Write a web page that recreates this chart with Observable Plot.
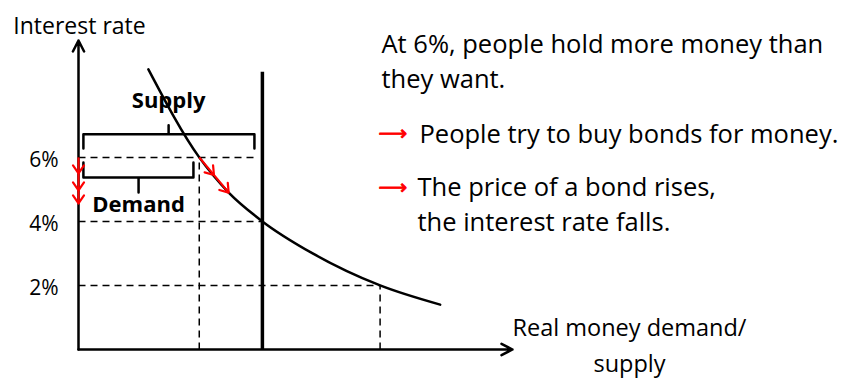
<!DOCTYPE html>
<html><head><meta charset="utf-8">
<script src="https://cdn.jsdelivr.net/npm/d3@7"></script>
<script src="https://cdn.jsdelivr.net/npm/@observablehq/plot@0.6"></script>
<style>body{margin:0;background:#fff}#chart{width:841px;height:379px}</style>
</head><body><div id="chart"></div>
<script>
// ---- data (x: real money units, y: interest rate %) ----
const rateTicks = [2, 4, 6];
const tickLabels = ["2%", "4%", "6%"];
const demandMoney = [1.14, 1.97, 2.45, 3.0, 3.82, 4.92, 5.9];
const demandRate  = [8.75, 6.0, 4.9, 4.0, 3.0, 2.0, 1.4];
const supplyMoney = 3.0;
const supplyTopRate = 8.66;
const guideRates = [6, 4, 2];
const guideEnds  = [2.87, 3.0, 4.92];
const dropMoney  = [1.97, 4.92];       // vertical guides
const dropRates  = [6, 2];
const axisRate = [6.0, 5.5, 4.97, 4.56]; // red arrow down the axis
const slideMoney = [1.97, 2.21, 2.45];   // red arrow along demand
const slideRate  = [6.0, 5.45, 4.9];
const braceNames = ["Supply", "Demand"];
const braceFrom = [0.08, 0.08];
const braceTo   = [2.87, 1.875];
const braceMid  = [1.47, 0.98];
const braceArm  = [6.28, 5.84];
const braceBar  = [6.72, 5.375];
const braceTip  = [7.0, 4.9];
const braceLabelY = [7.53, 4.29];
const yAxisTitle = "Interest rate";
const xAxisTitle = "Real money demand/\nsupply";
const note1 = "At 6%, people hold more money than\nthey want.";
const note2 = "People try to buy bonds for money.";
const note3 = "The price of a bond rises,\nthe interest rate falls.";
const bullet = "\u27F6";
const xEnd = 7.08, yEnd = 9.65;

// ---- layout ----
const W = 841, H = 379, ML = 78, MR = 329, MT = 40, MB = 30;
const pxX = (W - ML - MR) / xEnd, pxY = (H - MT - MB) / yEnd;
const angle = (x0, y0, x1, y1) => Math.atan2((x1 - x0) * pxX, (y1 - y0) * pxY) * 180 / Math.PI;

const demand = demandMoney.map((x, i) => ({x, y: demandRate[i]}));
const hGuides = guideRates.map((r, i) => ({r, end: guideEnds[i]}));
const vGuides = dropMoney.map((x, i) => ({x, r: dropRates[i]}));
const braces = braceNames.flatMap((id, i) => [
  [braceFrom[i], braceArm[i]], [braceFrom[i], braceBar[i]], [braceMid[i], braceBar[i]],
  [braceMid[i], braceTip[i]], [braceMid[i], braceBar[i]], [braceTo[i], braceBar[i]], [braceTo[i], braceArm[i]]
].map(([x, y]) => ({id, x, y})));
const braceLabels = braceNames.map((t, i) => ({t, x: braceMid[i], y: braceLabelY[i]}));
const ticks = rateTicks.map((r, i) => ({r, t: tickLabels[i]}));
const shafts = [
  {x1: 0, y1: axisRate[0], x2: 0, y2: axisRate[axisRate.length - 1]},
  {x1: slideMoney[0], y1: slideRate[0], x2: slideMoney[2], y2: slideRate[2]}
];
const heads = [
  ...axisRate.slice(1).map(y => ({x: 0, y, rot: 180})),
  ...slideMoney.slice(1).map((x, i) => ({x, y: slideRate[i + 1], rot: angle(slideMoney[0], slideRate[0], slideMoney[2], slideRate[2])}))
];
const chevron = {draw(ctx, l) { ctx.moveTo(-5.5, 8 - l); ctx.lineTo(0, -l); ctx.lineTo(5.5, 8 - l); }};

const RED = "#ff0000";
const fnt = "'Open Sans', Lato, sans-serif";
const txt = (s, o) => Plot.text([s], {frameAnchor: "top-left", textAnchor: "start", lineAnchor: "bottom", fontSize: 25.5, fill: "#000", ...o});
const plot = Plot.plot({
  width: W, height: H, marginLeft: ML, marginRight: MR, marginTop: MT, marginBottom: MB,
  style: {fontFamily: fnt, fontSize: "20px", color: "#000", background: "#fff"},
  x: {domain: [0, xEnd], axis: null},
  y: {domain: [0, yEnd], axis: null},
  marks: [
    Plot.link(hGuides, {x1: 0, y1: "r", x2: "end", y2: "r", stroke: "#000", strokeWidth: 1.5, strokeDasharray: "7,5"}),
    Plot.link(vGuides, {x1: "x", y1: 0, x2: "x", y2: "r", stroke: "#000", strokeWidth: 1.5, strokeDasharray: "7,5"}),
    Plot.ruleX([supplyMoney], {y1: 0, y2: supplyTopRate, stroke: "#000", strokeWidth: 3.5}),
    Plot.line(demand, {x: "x", y: "y", curve: "monotone-x", stroke: "#000", strokeWidth: 2.5}),
    Plot.line(braces, {x: "x", y: "y", z: "id", stroke: "#000", strokeWidth: 2.5, strokeLinejoin: "round"}),
    Plot.arrow([{x1: 0, y1: 0, x2: 0, y2: yEnd}, {x1: 0, y1: 0, x2: xEnd, y2: 0}],
      {x1: "x1", y1: "y1", x2: "x2", y2: "y2", stroke: "#000", strokeWidth: 2.5, headLength: 7.4, headAngle: 54}),
    Plot.link(shafts, {x1: "x1", y1: "y1", x2: "x2", y2: "y2", stroke: RED, strokeWidth: 2.2}),
    Plot.vector(heads, {x: "x", y: "y", rotate: "rot", length: 10, r: 10.5, anchor: "end", shape: chevron, stroke: RED, strokeWidth: 2.2}),
    Plot.text(ticks, {x: 0, y: "r", text: "t", dx: -20, dy: 3, textAnchor: "end", lineAnchor: "middle", fontSize: 21, fill: "#000"}),
    Plot.text(braceLabels, {x: "x", y: "y", text: "t", fontWeight: "bold", fontSize: 22, lineAnchor: "bottom", fill: "#000"}),
    txt(yAxisTitle, {dx: 1, dy: -7, textAnchor: "middle", fontSize: 23}),
    txt(xAxisTitle, {dx: 551, dy: 331, textAnchor: "middle", lineHeight: 1.5, fontSize: 23.5}),
    txt(note1, {dx: 303, dy: 47, lineHeight: 1.37}),
    txt(note2, {dx: 341, dy: 102}),
    txt(note3, {dx: 339, dy: 190, lineHeight: 1.37}),
    txt(bullet, {dx: 300, dy: 93, lineAnchor: "middle", fill: RED, stroke: RED, strokeWidth: 0.9, fontSize: 20, fontFamily: "DejaVu Sans"}),
    txt(bullet, {dx: 300, dy: 147, lineAnchor: "middle", fill: RED, stroke: RED, strokeWidth: 0.9, fontSize: 20, fontFamily: "DejaVu Sans"})
  ]
});
document.getElementById("chart").append(plot);
</script></body></html>
